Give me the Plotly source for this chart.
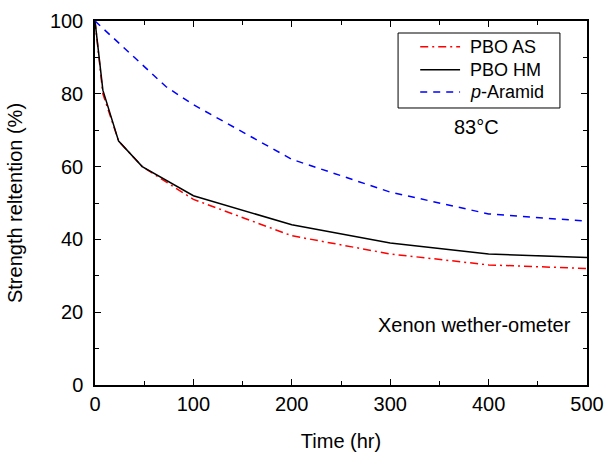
import plotly.graph_objects as go

# Exposure time (hr) and strength retention (%) for each fibre
time_pbo = [0, 8, 24, 48, 100, 200, 300, 400, 500]
pbo_as = [100, 80, 67, 60, 51, 41, 36, 33, 32]
pbo_hm = [100, 81, 67, 60, 52, 44, 39, 36, 35]

time_aramid = [0, 24, 48, 72, 100, 200, 300, 400, 500]
p_aramid = [100, 94, 88, 82, 77, 62, 53, 47, 45]

series_names = ["PBO AS", "PBO HM", "<i>p</i>-Aramid"]

FONT = "Liberation Sans, Arial, sans-serif"
STYLES = [
    dict(color="#ff0000", width=1.5, dash="8px,4px,2px,4px"),
    dict(color="#000000", width=1.5),
    dict(color="#0000ff", width=1.5, dash="7px,6px"),
]

fig = go.Figure()
for xs, ys, name, style in zip(
    [time_pbo, time_pbo, time_aramid], [pbo_as, pbo_hm, p_aramid],
    series_names, STYLES,
):
    fig.add_trace(go.Scatter(x=xs, y=ys, mode="lines", name=name,
                             line=style, showlegend=False))

axis_common = dict(
    showgrid=False, zeroline=False, showline=True, linecolor="black",
    linewidth=1.5, mirror="allticks", ticks="inside", ticklen=6,
    tickwidth=1, tickcolor="black", automargin=False,
    tickfont=dict(family=FONT, size=20, color="black"),
)

fig.update_xaxes(
    range=[0, 500], dtick=100, tick0=0,
    minor=dict(ticks="inside", dtick=50, ticklen=4, tickcolor="black"),
    title=dict(text="Time (hr)", font=dict(family=FONT, size=20, color="black"),
               standoff=20),
    **axis_common,
)
fig.update_yaxes(
    range=[0, 100], dtick=20, tick0=0, ticklabelstandoff=6,
    minor=dict(ticks="inside", dtick=10, ticklen=4, tickcolor="black"),
    title=dict(text="Strength reltention (%)",
               font=dict(family=FONT, size=20, color="black"), standoff=22),
    **axis_common,
)

# Boxed key in the upper right corner of the plot area
key_rows = [0.929, 0.866, 0.805]
fig.add_shape(type="rect", xref="paper", yref="paper",
              x0=0.616, x1=0.945, y0=0.761, y1=0.967,
              line=dict(color="black", width=1), fillcolor="white")
for ky, name, style in zip(key_rows, series_names, STYLES):
    fig.add_shape(type="line", xref="paper", yref="paper",
                  x0=0.661, x1=0.742, y0=ky, y1=ky, line=style)
    fig.add_annotation(x=0.758, y=ky, xref="paper", yref="paper",
                       xanchor="left", yanchor="middle", text=name,
                       showarrow=False,
                       font=dict(family=FONT, size=18, color="black"))

fig.add_annotation(x=0.776, y=0.709, xref="paper", yref="paper",
                   xanchor="center", yanchor="middle",
                   text="83°C", showarrow=False,
                   font=dict(family=FONT, size=20, color="black"))
fig.add_annotation(x=0.772, y=0.165, xref="paper", yref="paper",
                   xanchor="center", yanchor="middle",
                   text="Xenon wether-ometer", showarrow=False,
                   font=dict(family=FONT, size=20, color="black"))

fig.update_layout(
    width=605, height=457,
    margin=dict(l=95, r=18, t=21, b=72),
    paper_bgcolor="white", plot_bgcolor="white",
    showlegend=False,
)

fig.write_html("out.html")
